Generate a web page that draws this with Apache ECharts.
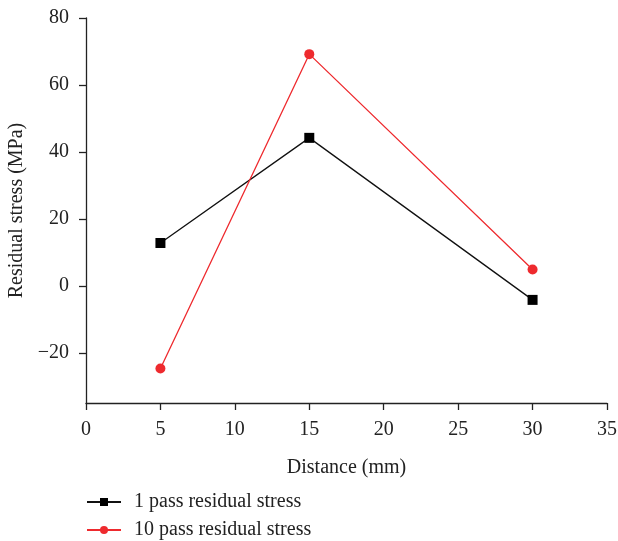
<!DOCTYPE html>
<html>
<head>
<meta charset="utf-8">
<script src="https://cdn.jsdelivr.net/npm/echarts@6/dist/echarts.min.js"></script>
<style>
    html, body { margin: 0; padding: 0; background: #fff; }
    #chart { width: 618px; height: 541px; }
</style>
</head>
<body>
<div id="chart"></div>
<script>
    // 数据
    var distance = [5, 15, 30];
    var pass1 = [12.8, 44.2, -4.2];
    var pass10 = [-24.7, 69.2, 4.9];
    var yTicks = [-20, 0, 20, 40, 60, 80];
    var seriesNames = ['1 pass residual stress', '10 pass residual stress'];

    function toPoints(xs, ys) {
        return xs.map(function (x, i) { return [x, ys[i]]; });
    }

    var font = 'Liberation Serif';
    var chart = echarts.init(document.getElementById('chart'));

    var option = {
        backgroundColor: '#fff',
        animation: false,
        grid: {
            left: 86,
            right: 11,
            top: 18,
            bottom: 138,
            containLabel: false,
            outerBoundsMode: 'none'
        },
        legend: {
            orient: 'vertical',
            left: 86,
            top: 492,
            padding: 0,
            itemWidth: 34,
            itemHeight: 10,
            itemGap: 8,
            textStyle: { fontFamily: font, fontSize: 20, lineHeight: 19, color: '#222', padding: [0, 0, 0, 8] },
            data: seriesNames
        },
        xAxis: {
            type: 'value',
            min: 0,
            max: 35,
            interval: 5,
            name: 'Distance (mm)',
            nameLocation: 'middle',
            nameGap: 55,
            nameTextStyle: { fontFamily: font, fontSize: 20, color: '#222' },
            axisLine: { onZero: false, lineStyle: { color: '#222', width: 1.3 } },
            axisTick: { length: 7, lineStyle: { color: '#222', width: 1.3 } },
            axisLabel: { fontFamily: font, fontSize: 20, color: '#222', margin: 17 },
            splitLine: { show: false }
        },
        yAxis: {
            type: 'value',
            min: -35,
            max: 80,
            name: 'Residual stress (MPa)',
            nameLocation: 'middle',
            nameGap: 56,
            nameTextStyle: { fontFamily: font, fontSize: 20, color: '#222' },
            axisLine: { show: true, onZero: false, lineStyle: { color: '#222', width: 1.3 } },
            axisTick: { show: true, length: 7, customValues: yTicks, lineStyle: { color: '#222', width: 1.3 } },
            axisLabel: { fontFamily: font, fontSize: 20, color: '#222', margin: 17, customValues: yTicks,
                formatter: function (v) { return v < 0 ? '\u2212' + Math.abs(v) : String(v); } },
            splitLine: { show: false }
        },
        series: [
            {
                name: seriesNames[0],
                type: 'line',
                data: toPoints(distance, pass1),
                symbol: 'rect',
                symbolSize: 10,
                lineStyle: { color: '#111', width: 1.3 },
                itemStyle: { color: '#000' }
            },
            {
                name: seriesNames[1],
                type: 'line',
                data: toPoints(distance, pass10),
                symbol: 'circle',
                symbolSize: 10,
                lineStyle: { color: '#ee2a2e', width: 1.3 },
                itemStyle: { color: '#ee2a2e' }
            }
        ]
    };

    chart.setOption(option);
</script>
</body>
</html>
